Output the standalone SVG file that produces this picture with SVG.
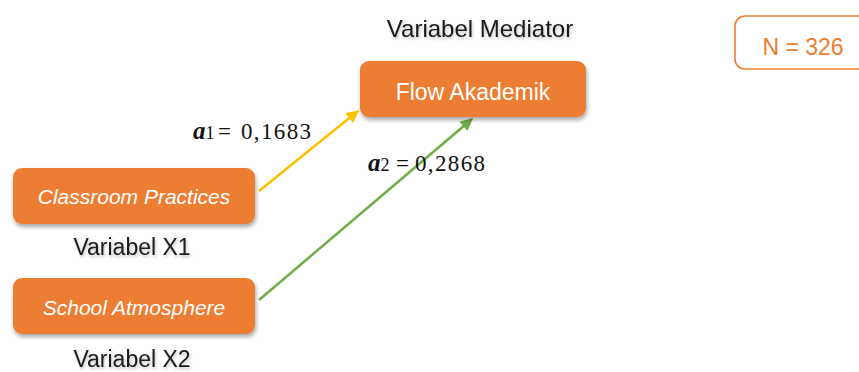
<svg xmlns="http://www.w3.org/2000/svg" width="859" height="372" viewBox="0 0 859 372">
<style>
.box{fill:#ED7D31;filter:url(#sh)}
.bt{fill:#fff;font-family:"Liberation Sans",Arial,sans-serif;text-anchor:middle}
.lbl{fill:#1a1a1a;font-family:"Liberation Sans",Arial,sans-serif;text-anchor:middle;filter:url(#tsh)}
.m{fill:#111;font-family:"Liberation Serif","Times New Roman",serif;font-size:23px}
.mb{font-weight:bold;font-style:italic;font-size:25px}
</style>
<defs>
<filter id="sh" x="-10%" y="-20%" width="120%" height="150%">
<feGaussianBlur in="SourceAlpha" stdDeviation="2"/>
<feOffset dx="1" dy="3" result="b"/>
<feComponentTransfer><feFuncA type="linear" slope="0.35"/></feComponentTransfer>
<feMerge><feMergeNode/><feMergeNode in="SourceGraphic"/></feMerge>
</filter>
<filter id="tsh" x="-10%" y="-30%" width="120%" height="160%">
<feGaussianBlur in="SourceAlpha" stdDeviation="1.5"/>
<feOffset dx="1" dy="2"/>
<feComponentTransfer><feFuncA type="linear" slope="0.25"/></feComponentTransfer>
<feMerge><feMergeNode/><feMergeNode in="SourceGraphic"/></feMerge>
</filter>
<marker id="ay" viewBox="0 0 10 10" refX="9" refY="5" markerWidth="5" markerHeight="5" orient="auto" markerUnits="strokeWidth">
<path d="M0,0 L10,5 L0,10 z" fill="#FFC000"/>
</marker>
<marker id="ag" viewBox="0 0 10 10" refX="9" refY="5" markerWidth="5" markerHeight="5" orient="auto" markerUnits="strokeWidth">
<path d="M0,0 L10,5 L0,10 z" fill="#70AD47"/>
</marker>
</defs>
<rect width="859" height="372" fill="#fff"/>

<g id="connectors">
<line x1="259" y1="191" x2="358" y2="111" stroke="#FFC000" stroke-width="2.5" marker-end="url(#ay)"/>
<line x1="259" y1="300" x2="472" y2="119" stroke="#70AD47" stroke-width="2.5" marker-end="url(#ag)"/>
</g>

<g id="mediator">
<text class="lbl" x="480" y="37" font-size="24">Variabel Mediator</text>
<rect class="box" x="360" y="61" width="226" height="56" rx="9"/>
<text class="bt" x="473" y="100" font-size="23">Flow Akademik</text>
</g>

<g id="x1">
<rect class="box" x="13" y="168" width="242" height="56" rx="9"/>
<text class="bt" x="134" y="204" font-size="21" font-style="italic">Classroom Practices</text>
<text class="lbl" x="132" y="255" font-size="23">Variabel X1</text>
</g>

<g id="x2">
<rect class="box" x="13" y="278" width="242" height="56" rx="9"/>
<text class="bt" x="134" y="315" font-size="21" font-style="italic">School Atmosphere</text>
<text class="lbl" x="132" y="367" font-size="23">Variabel X2</text>
</g>

<g id="n">
<rect x="735" y="16" width="140" height="53" rx="10" fill="#fff" stroke="#ED7D31" stroke-width="1.6"/>
<text x="803" y="55" font-family="'Liberation Sans',Arial,sans-serif" font-size="23" fill="#ED7D31" text-anchor="middle">N = 326</text>
</g>

<g id="a1">
<text class="m" x="193" y="139"><tspan class="mb">a</tspan><tspan font-size="18">1</tspan></text>
<text class="m" x="218" y="139">=</text>
<text class="m" x="241" y="139" textLength="70">0,1683</text>
</g>
<g id="a2">
<text class="m" x="368" y="171"><tspan class="mb">a</tspan><tspan font-size="18">2</tspan></text>
<text class="m" x="396" y="171">=</text>
<text class="m" x="415" y="171" textLength="70">0,2868</text>
</g>
</svg>
